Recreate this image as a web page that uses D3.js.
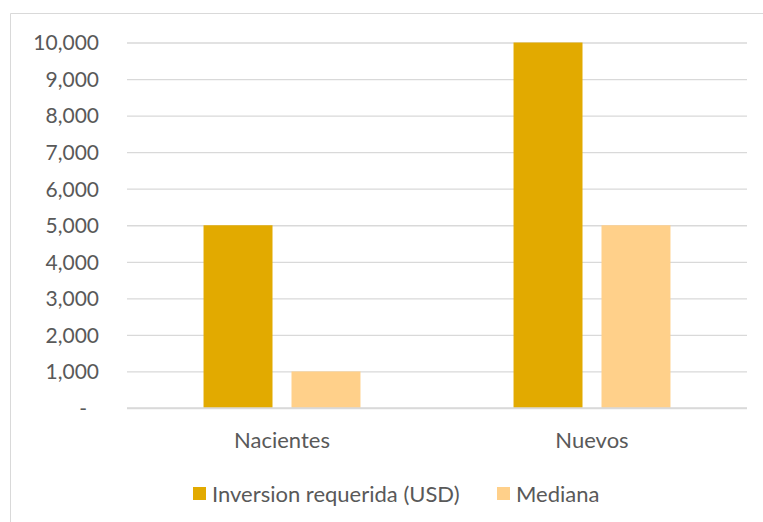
<!DOCTYPE html>
<html><head><meta charset="utf-8">
<script src="https://cdn.jsdelivr.net/npm/d3@7"></script>
<style>body{margin:0;background:#fff}svg{display:block}text{font-family:Lato,"Open Sans",sans-serif;fill:#595959}</style>
</head><body>
<svg id="c" width="763" height="522"></svg>
<script>
const categories = ["Nacientes", "Nuevos"];
const seriesNames = ["Inversion requerida (USD)", "Mediana"];
const inversion = [5000, 10000];
const mediana = [1000, 5000];
const yTicks = [0,1000,2000,3000,4000,5000,6000,7000,8000,9000,10000];
const colors = ["#E2AA00", "#FFD08A"];

const values = [inversion, mediana];
const svg = d3.select("#c");
// outer border
svg.append("path").attr("d","M10.5,522 L10.5,13.5 L763,13.5").attr("fill","none").attr("stroke","#D9D9D9").attr("stroke-width",1);

const L=127, R=747, T=42.5, B=408;
const y = d3.scaleLinear().domain([0,10000]).range([B,T]);
const x0 = d3.scaleBand().domain(categories).range([L,R]);
const x1 = d3.scaleBand().domain(seriesNames).range([0,x0.bandwidth()]).paddingInner(0.216).paddingOuter(0.87);

const yAxis = d3.axisLeft(y).tickValues(yTicks).tickSize(-(R-L)).tickFormat(d=> d===0 ? "-" : d3.format(",")(d));
const ga = svg.append("g").attr("transform",`translate(${L},0)`).call(yAxis);
ga.select(".domain").remove();
ga.selectAll(".tick line").attr("stroke","#D9D9D9").attr("stroke-width",1.3);
ga.selectAll(".tick text").attr("x",-28).attr("dy","0.35em").style("font-size","21px").attr("fill","#595959")
  .filter(d=>d===0).attr("x",-40);

const g = svg.append("g");
categories.forEach((c,i)=>{
  seriesNames.forEach((s,j)=>{
    g.append("rect").attr("x",x0(c)+x1(s)).attr("width",x1.bandwidth())
     .attr("y",y(values[j][i])).attr("height",y(0)-y(values[j][i])).attr("fill",colors[j]);
  });
});
// redraw baseline on top
svg.append("line").attr("x1",L).attr("x2",R).attr("y1",y(0)).attr("y2",y(0)).attr("stroke","#D9D9D9").attr("stroke-width",1.3);

const xAxis = d3.axisBottom(x0).tickSize(0);
const gx = svg.append("g").attr("transform",`translate(0,${B})`).call(xAxis);
gx.select(".domain").remove();
gx.selectAll(".tick text").attr("y",32).attr("dy","0.35em").style("font-size","22px").attr("fill","#595959");

// legend
const legX = [193, 497];
const lg = svg.append("g");
seriesNames.forEach((s,j)=>{
  lg.append("rect").attr("x",legX[j]).attr("y",487).attr("width",13).attr("height",13).attr("fill",colors[j]);
  lg.append("text").attr("x",legX[j]+19).attr("y",494).attr("dy","0.35em").style("font-size","22px").text(s);
});
</script>
</body></html>
